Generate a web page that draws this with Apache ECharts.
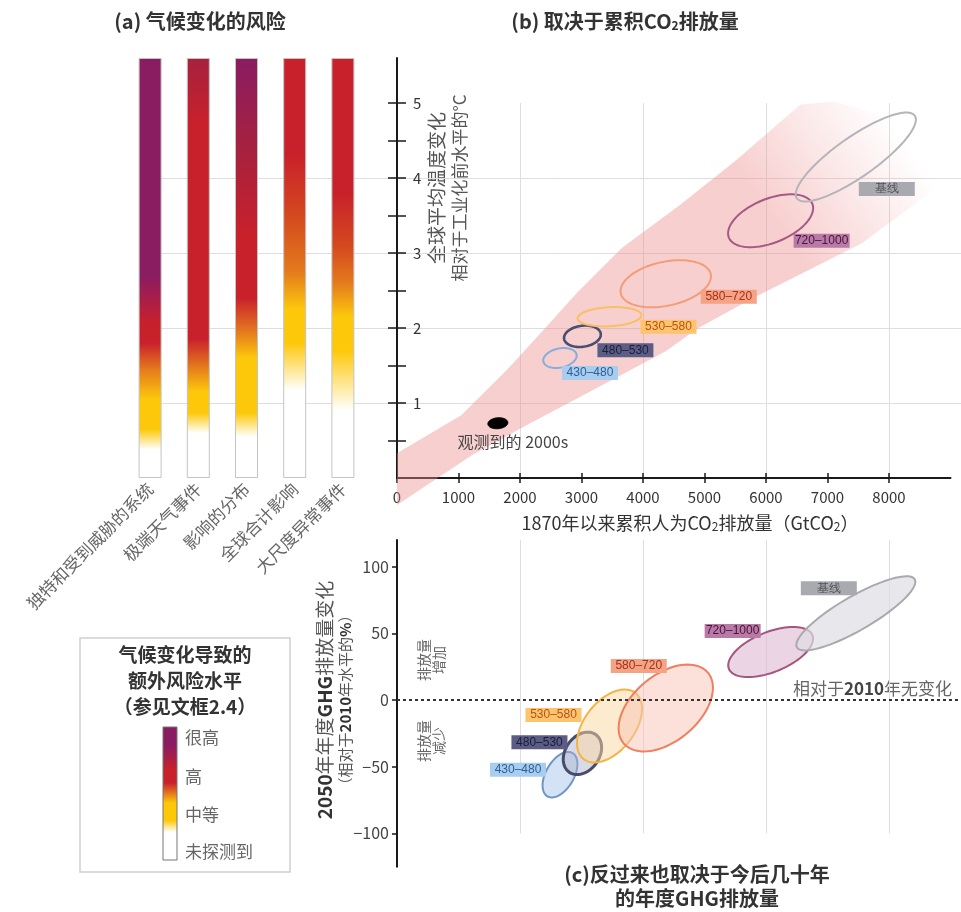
<!DOCTYPE html>
<html><head><meta charset="utf-8">
<script src="https://cdn.jsdelivr.net/npm/echarts@6/dist/echarts.min.js"></script>
<style>html,body{margin:0;padding:0;background:#fff}#c{width:961px;height:912px}</style>
</head><body><div id="c"></div><script>
// ---------- DATA ----------
// Panel (a): reasons for concern, bars span the whole warming axis (°C)
const riskCategories = ['独特和受到威胁的系统','极端天气事件','影响的分布','全球合计影响','大尺度异常事件'];
const riskBarTop = [5.6, 5.6, 5.6, 5.6, 5.6];
// colour transitions per bar: [warming °C, risk level]
const riskStops = [
  [[5.6,'vh'],[2.7,'vh'],[2.05,'h'],[1.8,'h'],[1.45,'mh'],[1.05,'m'],[0.65,'m'],[0.38,'n'],[0,'n']],
  [[5.6,'vhh'],[4.7,'h'],[1.85,'h'],[1.48,'mh'],[1.15,'m'],[0.87,'m'],[0.6,'n'],[0,'n']],
  [[5.6,'vh'],[4.4,'vhh'],[3.2,'h'],[2.4,'h'],[1.95,'mh'],[1.6,'m'],[0.87,'m'],[0.55,'n'],[0,'n']],
  [[5.6,'h'],[4.3,'h'],[3.5,'ho'],[2.75,'mh'],[2.25,'m'],[1.8,'m'],[1.17,'n'],[0,'n']],
  [[5.6,'h'],[3.8,'h'],[3.1,'ho'],[2.6,'mh'],[2.15,'m'],[1.7,'m'],[0.9,'n'],[0,'n']]
];
const legendLevels = ['很高','高','中等','未探测到'];
const legendStops = [[1,'vh'],[0.86,'vh'],[0.68,'h'],[0.58,'h'],[0.5,'mh'],[0.43,'m'],[0.3,'m'],[0.21,'n'],[0,'n']];

// Panel (b)/(c): scenario categories (ppm CO2-eq in 2100)
const scenarioNames = ['430–480','480–530','530–580','580–720','720–1000','基线'];
const cumCO2 = [2650, 3015, 3455, 4370, 6075, 7460];          // GtCO2 since 1870
const warming = [1.6, 1.89, 2.15, 2.59, 3.43, 4.28];           // °C
const warmingEllipseCO2 = [276, 301, 520, 748, 732, 1171];      // semi-axis (GtCO2)
const warmingEllipseTemp = [0.127, 0.14, 0.127, 0.293, 0.293, 0.267]; // semi-axis (°C)
const warmingEllipseTilt = [12, 8, 3, 12, 22, 35];              // deg
const observedCO2 = [1640], observedTemp = [0.73];
const observedEllipseCO2 = [163], observedEllipseTemp = [0.073], observedTilt = [5];
const observedLabel = '观测到的 2000s';

const emissionChange = [-56, -40, -19.5, -6, 36, 65];          // % vs 2010
const emissionEllipseCO2 = [407, 374, 683, 894, 732, 1106];
const emissionEllipsePct = [10.5, 12.75, 18.75, 24.75, 15, 12.75];
const emissionEllipseTilt = [60, 55, 52, 40, 22, 30];

// Likely range band (GtCO2, °C)
const bandUpperCO2 = [0, 1050, 1820, 2410, 2950, 3660, 4600, 5490, 6560, 7100, 8300, 9200];
const bandUpperTemp = [0.33, 0.84, 1.47, 2.0, 2.49, 3.07, 3.64, 4.22, 4.98, 5.02, 4.75, 4.2];
const bandLowerCO2 = [0, 1230, 2120, 2950, 3660, 4370, 4900, 5790, 7560, 8630];
const bandLowerTemp = [-0.36, 0.31, 0.71, 1.07, 1.38, 1.69, 2.0, 2.4, 3.13, 3.78];

const xTicksCO2 = [0,1000,2000,3000,4000,5000,6000,7000,8000];
const yTicksTemp = [1,2,3,4,5];
const yMinorTemp = [0.5,1,1.5,2,2.5,3,3.5,4,4.5,5];
const yTicksPct = [-100,-50,0,50,100];

// ---------- STYLE ----------
const F = '"Noto Sans CJK SC","Noto Sans",sans-serif';
const levelColor = {vh:'#8a1c62', vhh:'#a6213f', h:'#c9212b', ho:'#d4481f', mh:'#e47a1d', m:'#fdc80a', n:'#ffffff'};
const lblBg = ['#a8cdee','#5b5d85','#fcc46c','#f4a385','#b87aa6','#a9aaaf'];
const lblFg = ['#2d5f96','#1c1c3c','#b8521b','#a3301e','#4b1338','#4e4e55'];
const strokeB = ['#86aedb','#4a4e70','#f8c060','#f29c78','#a45a87','#b4b4ba'];
const widthB = [2, 2.6, 2, 2, 2, 2];
const strokeC = ['#6f95c6','#4a4b68','#f4b447','#ee7f61','#a3567f','#a9a9b0'];
const fillC = ['rgba(168,200,236,0.5)','rgba(170,172,205,0.45)','rgba(252,215,160,0.5)','rgba(248,195,180,0.5)','rgba(222,185,212,0.6)','rgba(222,222,228,0.7)'];
const widthC = [2, 3, 2, 2, 2, 2];
const lblOffB = [[30,15],[43,14],[59,10],[63,13],[51,20],[31,32]];
const lblOffC = [[-42,-5],[-43,-11],[-56,-11],[-27,-42],[-38,-21],[-27,-25]];

function grad(stops, top) {
  const cs = stops.map(s => ({offset: 1 - s[0] / top, color: levelColor[s[1]]}));
  cs.sort((a, b) => a.offset - b.offset);
  return new echarts.graphic.LinearGradient(0, 0, 0, 1, cs);
}
function ellipsePts(c, s, deg) {
  const r = deg * Math.PI / 180, pts = [];
  for (let k = 0; k < 90; k++) {
    const t = k / 90 * 2 * Math.PI, ex = s[0] * Math.cos(t), ey = s[1] * Math.sin(t);
    pts.push([c[0] + ex * Math.cos(r) + ey * Math.sin(r), c[1] - ex * Math.sin(r) + ey * Math.cos(r)]);
  }
  return pts;
}
function ellipseRender(opts) {
  return function (params, api) {
    const i = params.dataIndex;
    const c = api.coord([api.value(0), api.value(1)]);
    const s = api.size([api.value(2), api.value(3)]);
    const ch = [{type:'polygon', shape:{points: ellipsePts(c, s, api.value(4))},
      style:{fill: opts.fill[i], stroke: opts.stroke[i], lineWidth: opts.width[i]}}];
    if (opts.labels[i]) {
      const st = {text: opts.labels[i], fill: opts.fg[i], font: opts.font, align:'center', verticalAlign:'middle'};
      if (opts.bg) { st.backgroundColor = opts.bg[i]; st.padding = [1,4,1,4]; st.width = 48; }
      ch.push({type:'text', x: c[0] + opts.off[i][0], y: c[1] + opts.off[i][1], z2: 100, style: st});
    }
    return {type:'group', children: ch};
  };
}

const gridColor = '#dedede';
const axisCol = '#1a1a1a';
const hidden = {show:false};

const option = {
  animation:false,
  grid:[
    {left:126, top:58, width:241, height:420},          // 0 bars
    {left:150, top:178, width:811, height:300},         // 1 horizontal guide lines
    {left:397, top:103, width:492, height:375},         // 2 vertical lines (b)
    {left:397, top:58, width:553.5, height:420},        // 3 panel b axes
    {left:397, top:540, width:492, height:293.3},       // 4 vertical lines (c)
    {left:397, top:540, width:564, height:326.7}        // 5 panel c axes
  ],
  xAxis:[
    {gridIndex:0, type:'category', data:riskCategories, axisLine:hidden, axisTick:hidden,
      axisLabel:{interval:0, rotate:45, margin:8, fontSize:17, color:'#666', fontFamily:F}},
    {gridIndex:1, type:'value', min:0, max:1, show:false},
    {gridIndex:2, type:'value', min:0, max:8000, interval:2000, axisLine:hidden, axisTick:hidden, axisLabel:hidden,
      splitLine:{show:true, showMinLine:false, lineStyle:{color:gridColor, width:1}}},
    {gridIndex:3, type:'value', position:'bottom', min:0, max:9000, interval:1000,
      axisLine:{show:true, lineStyle:{color:axisCol, width:2}},
      axisTick:{show:true, length:5, customValues:xTicksCO2, lineStyle:{color:axisCol, width:1.5}},
      axisLabel:{customValues:xTicksCO2, margin:12, fontSize:15, color:'#333', fontFamily:F,
        formatter: v => (v <= 8000 ? String(v) : '')},
      splitLine:hidden},
    {gridIndex:3, type:'value', position:'bottom', min:0, max:9000, interval:1000,
      axisLine:hidden, axisLabel:hidden, splitLine:hidden,
      axisTick:{show:true, inside:true, length:5, customValues:xTicksCO2, lineStyle:{color:axisCol, width:1.5}}},
    {gridIndex:4, type:'value', min:0, max:8000, interval:2000, axisLine:hidden, axisTick:hidden, axisLabel:hidden,
      splitLine:{show:true, showMinLine:false, lineStyle:{color:gridColor, width:1}}},
    {gridIndex:5, type:'value', min:0, max:9170, show:false}
  ],
  yAxis:[
    {gridIndex:0, type:'value', min:0, max:5.6, show:false},
    {gridIndex:1, type:'value', min:0, max:4, interval:1, axisLine:hidden, axisTick:hidden, axisLabel:hidden,
      splitLine:{show:true, showMinLine:false, lineStyle:{color:gridColor, width:1}}},
    {gridIndex:2, type:'value', min:0, max:5, show:false},
    {gridIndex:3, type:'value', position:'left', min:0, max:5.6, interval:0.5,
      axisLine:{show:true, lineStyle:{color:axisCol, width:2}},
      axisTick:{show:true, length:9, customValues:yMinorTemp, lineStyle:{color:axisCol, width:1.5}},
      axisLabel:{inside:true, margin:16, customValues:yTicksTemp, fontSize:15, color:'#333', fontFamily:F},
      splitLine:hidden},
    {gridIndex:3, type:'value', position:'left', min:0, max:5.6, interval:0.5,
      axisLine:hidden, axisLabel:hidden, splitLine:hidden,
      axisTick:{show:true, inside:true, length:9, customValues:yMinorTemp, lineStyle:{color:axisCol, width:1.5}}},
    {gridIndex:4, type:'value', min:-100, max:120, show:false},
    {gridIndex:5, type:'value', position:'left', min:-125, max:120, interval:25,
      axisLine:{show:true, lineStyle:{color:axisCol, width:2}},
      axisTick:{show:true, length:5, customValues:yTicksPct, lineStyle:{color:axisCol, width:1.5}},
      axisLabel:{customValues:yTicksPct, margin:8, fontSize:16, color:'#444', fontFamily:F,
        formatter: v => (v < 0 ? '−' + Math.abs(v) : String(v))},
      splitLine:hidden}
  ],
  series:[
    {type:'bar', xAxisIndex:0, yAxisIndex:0, barWidth:23, silent:true,
      data: riskBarTop.map((v, i) => ({value:v, itemStyle:{color: grad(riskStops[i], 5.6), borderColor:'#c4c4c4', borderWidth:1}}))},
    {type:'custom', xAxisIndex:3, yAxisIndex:3, silent:true, z:1, data:[[0,0]],
      renderItem: function (params, api) {
        const pts = bandUpperCO2.map((x, i) => api.coord([x, bandUpperTemp[i]]));
        for (let i = bandLowerCO2.length - 1; i >= 0; i--) pts.push(api.coord([bandLowerCO2[i], bandLowerTemp[i]]));
        return {type:'polygon', shape:{points:pts}, style:{
          fill: new echarts.graphic.LinearGradient(0, 1, 1, 0, [
            {offset:0, color:'rgba(238,140,140,0.42)'},
            {offset:0.68, color:'rgba(238,140,140,0.42)'},
            {offset:0.9, color:'rgba(238,140,140,0)'}]), stroke:null}};
      }},
    {type:'custom', xAxisIndex:3, yAxisIndex:3, silent:true, z:3,
      dimensions:['x','y','rx','ry','tilt'], encode:{x:0, y:1},
      data: cumCO2.map((x, i) => [x, warming[i], warmingEllipseCO2[i], warmingEllipseTemp[i], warmingEllipseTilt[i]]),
      renderItem: ellipseRender({labels:scenarioNames, off:lblOffB, fill:scenarioNames.map(() => 'rgba(0,0,0,0)'),
        stroke:strokeB, width:widthB, fg:lblFg, bg:lblBg, font:'12px "Liberation Sans",sans-serif'})},
    {type:'custom', xAxisIndex:3, yAxisIndex:3, silent:true, z:3,
      dimensions:['x','y','rx','ry','tilt'], encode:{x:0, y:1},
      data: observedCO2.map((x, i) => [x, observedTemp[i], observedEllipseCO2[i], observedEllipseTemp[i], observedTilt[i]]),
      renderItem: ellipseRender({labels:[observedLabel], off:[[15,19]], fill:['#000'], stroke:['#000'], width:[1],
        fg:['#444'], bg:null, font:'16px ' + F})},
    {type:'custom', xAxisIndex:6, yAxisIndex:6, silent:true, z:3,
      dimensions:['x','y','rx','ry','tilt'], encode:{x:0, y:1},
      data: cumCO2.map((x, i) => [x, emissionChange[i], emissionEllipseCO2[i], emissionEllipsePct[i], emissionEllipseTilt[i]]),
      renderItem: ellipseRender({labels:scenarioNames, off:lblOffC, fill:fillC, stroke:strokeC, width:widthC,
        fg:lblFg, bg:lblBg, font:'12px "Liberation Sans",sans-serif'}),
      markLine:{silent:true, symbol:'none', label:{show:false}, data:[{yAxis:0}],
        lineStyle:{type:[3,3], color:'#333', width:2}}}
  ],
  graphic:[
    {type:'text', x:200, y:21, style:{text:'(a) 气候变化的风险', font:'bold 20px ' + F, fill:'#333', align:'center', verticalAlign:'middle'}},
    {type:'text', x:625, y:21, style:{text:'{t|(b) 取决于累积CO}{s|2}{t|排放量}', align:'center', verticalAlign:'middle',
      rich:{t:{font:'bold 20px ' + F, fill:'#333', verticalAlign:'bottom'}, s:{font:'bold 12px ' + F, fill:'#333', verticalAlign:'bottom'}}}},
    {type:'text', x:448, y:188, rotation:Math.PI/2, style:{text:'{a|全球平均温度变化}\n{b|相对于工业化前水平的°C}', align:'center', verticalAlign:'middle',
      rich:{a:{font:'19px ' + F, fill:'#555', lineHeight:23}, b:{font:'17px ' + F, fill:'#555', lineHeight:23}}}},
    {type:'text', x:690, y:523, style:{text:'{t|1870年以来累积人为CO}{s|2}{t|排放量（GtCO}{s|2}{t|）}', align:'center', verticalAlign:'middle',
      rich:{t:{font:'18px ' + F, fill:'#333', verticalAlign:'bottom'}, s:{font:'12px ' + F, fill:'#333', verticalAlign:'bottom'}}}},
    {type:'text', x:335, y:700, rotation:Math.PI/2, style:{
      text:'{b|2050}{n|年年度}{b|GHG}{n|排放量变化}\n{s|（相对于}{sb|2010}{s|年水平的}{sb|%}{s|）}', align:'center', verticalAlign:'middle',
      rich:{b:{font:'bold 19px ' + F, fill:'#333', lineHeight:20}, n:{font:'19px ' + F, fill:'#555', lineHeight:20},
        s:{font:'15px ' + F, fill:'#555', lineHeight:20}, sb:{font:'bold 15px ' + F, fill:'#333', lineHeight:20}}}},
    {type:'text', x:431, y:660, rotation:Math.PI/2, style:{text:'排放量\n增加', font:'14px ' + F, fill:'#666', lineHeight:15, align:'center', verticalAlign:'middle'}},
    {type:'text', x:431, y:741, rotation:Math.PI/2, style:{text:'排放量\n减少', font:'14px ' + F, fill:'#666', lineHeight:15, align:'center', verticalAlign:'middle'}},
    {type:'text', x:952, y:689, style:{text:'{n|相对于}{b|2010}{n|年无变化}', align:'right', verticalAlign:'middle',
      rich:{n:{font:'17px ' + F, fill:'#666'}, b:{font:'bold 17px ' + F, fill:'#444'}}}},
    {type:'text', x:697, y:886, style:{text:'(c)反过来也取决于今后几十年\n的年度GHG排放量', font:'bold 20px ' + F, fill:'#333', lineHeight:24, align:'center', verticalAlign:'middle'}},
    // legend box
    {type:'rect', shape:{x:80, y:638, width:210, height:234}, style:{fill:'#fff', stroke:'#cfcfcf', lineWidth:1.5}},
    {type:'text', x:185, y:642, style:{text:'气候变化导致的\n额外风险水平\n（参见文框2.4）', font:'bold 19px ' + F, fill:'#333', lineHeight:26, align:'center', verticalAlign:'top'}},
    {type:'rect', shape:{x:163, y:727, width:14, height:133}, style:{fill: grad(legendStops, 1), stroke:'#777', lineWidth:1}},
    {type:'text', x:185, y:738, style:{text:legendLevels[0], font:'17px ' + F, fill:'#666', verticalAlign:'middle'}},
    {type:'text', x:185, y:777, style:{text:legendLevels[1], font:'17px ' + F, fill:'#666', verticalAlign:'middle'}},
    {type:'text', x:185, y:815, style:{text:legendLevels[2], font:'17px ' + F, fill:'#666', verticalAlign:'middle'}},
    {type:'text', x:185, y:852, style:{text:legendLevels[3], font:'17px ' + F, fill:'#666', verticalAlign:'middle'}}
  ]
};
const chart = echarts.init(document.getElementById('c'), null, {renderer:'canvas', width:961, height:912});
chart.setOption(option);
</script></body></html>
